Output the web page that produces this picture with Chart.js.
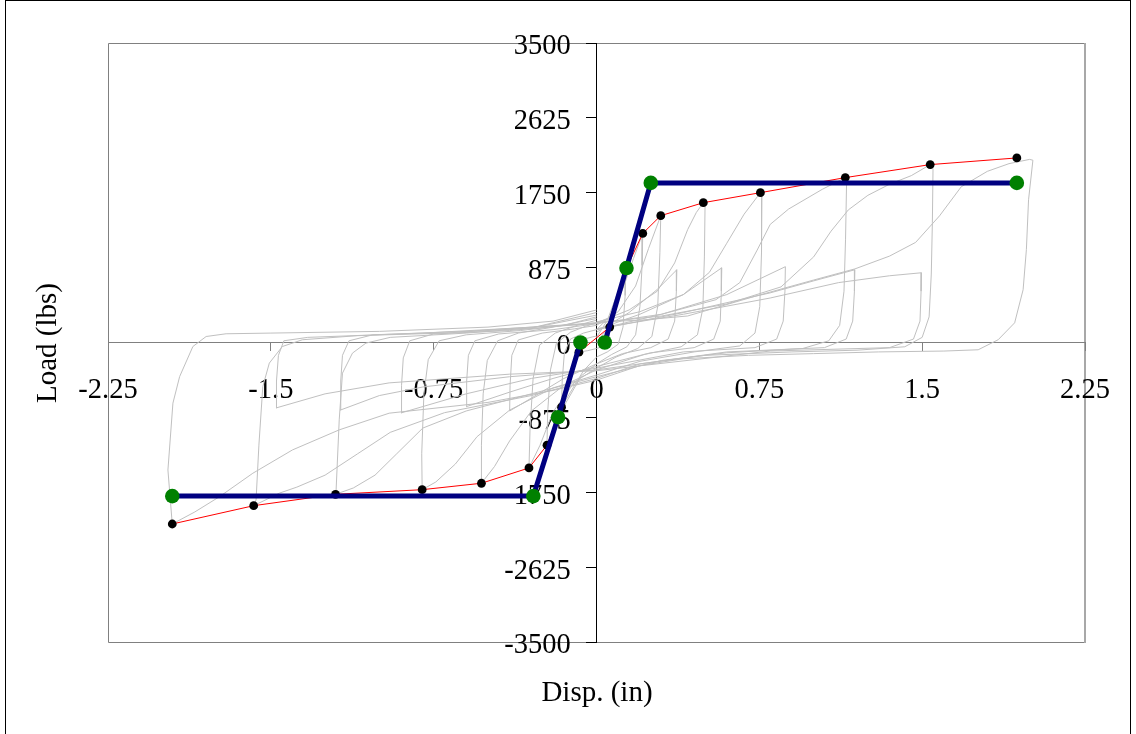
<!DOCTYPE html>
<html><head><meta charset="utf-8">
<script src="https://cdn.jsdelivr.net/npm/chart.js@4/dist/chart.umd.min.js"></script>
<style>html,body{margin:0;padding:0;background:#fff;overflow:hidden}#wrap{position:relative;width:1136px;height:734px}</style>
</head><body><div id="wrap"><canvas id="c" width="1136" height="734" style="width:1136px;height:734px"></canvas></div>
<script>
// ---- axis ticks ----
const xTickValues = [-2.25, -1.5, -0.75, 0, 0.75, 1.5, 2.25];
const xTickLabels = ['-2.25', '-1.5', '-0.75', '0', '0.75', '1.5', '2.25'];
const yTickValues = [-3500, -2625, -1750, -875, 0, 875, 1750, 2625, 3500];
const yTickLabels = ['-3500', '-2625', '-1750', '-875', '0', '875', '1750', '2625', '3500'];

// ---- backbone envelope (red line, black dots) ----
const envX = [-1.954, -1.579, -1.202, -0.803, -0.530, -0.311, -0.228, -0.161, -0.081, 0.061, 0.135, 0.213, 0.296, 0.492, 0.755, 1.146, 1.537, 1.936];
const envY = [-2121, -1907, -1774, -1720, -1645, -1466, -1200, -756, -113, 180, 850, 1275, 1482, 1634, 1751, 1927, 2079, 2157];

// ---- bilinear model (navy line, green dots) ----
const biPosX = [0.038, 0.138, 0.25, 1.936];
const biPosY = [0, 870, 1865, 1865];
const biNegX = [-0.074, -0.177, -0.291, -1.954];
const biNegY = [0, -873, -1795, -1795];

// ---- hysteresis loops (grey), [disp, load] ----
const loopL1 = [[0,0],[0.03,95],[0.061,180],[0.058,60],[0.045,-20],[0.02,-55],[0,-70],[-0.04,-95],[-0.081,-113],[-0.075,-20],[-0.055,40],[-0.02,65],[0,75]];
const loopL2 = [[0,60],[0.05,260],[0.1,600],[0.135,850],[0.132,550],[0.122,180],[0.1,-20],[0.05,-110],[0,-170],[-0.06,-330],[-0.12,-580],[-0.161,-756],[-0.158,-450],[-0.148,-120],[-0.12,40],[-0.06,110],[0,150]];
const loopL3 = [[0,150],[0.06,300],[0.12,620],[0.17,980],[0.213,1275],[0.21,900],[0.2,420],[0.18,90],[0.14,-50],[0.07,-140],[0,-250],[-0.07,-390],[-0.14,-700],[-0.19,-1000],[-0.228,-1200],[-0.225,-820],[-0.212,-320],[-0.185,-10],[-0.12,120],[-0.05,190],[0,230]];
const loopL4 = [[0,200],[0.1,360],[0.18,660],[0.24,1100],[0.296,1482],[0.292,1050],[0.282,420],[0.255,70],[0.19,-70],[0.09,-170],[0,-300],[-0.1,-460],[-0.2,-810],[-0.26,-1200],[-0.311,-1466],[-0.306,-1000],[-0.292,-420],[-0.262,-30],[-0.19,110],[-0.09,200],[0,260]];
const loopL5 = [[0,230],[0.15,380],[0.28,600],[0.36,930],[0.42,1320],[0.46,1520],[0.492,1634],[0.5,1600],[0.497,1000],[0.49,400],[0.465,90],[0.39,-50],[0.22,-140],[0,-320],[-0.15,-500],[-0.3,-800],[-0.4,-1150],[-0.47,-1450],[-0.53,-1645],[-0.53,-1200],[-0.522,-600],[-0.503,-210],[-0.455,20],[-0.36,110],[-0.2,180],[0,280]];
const loopL6 = [[0,240],[0.2,360],[0.4,560],[0.52,820],[0.6,1160],[0.68,1500],[0.755,1751],[0.762,1720],[0.76,1050],[0.752,420],[0.73,110],[0.66,-40],[0.45,-110],[0.2,-220],[0,-380],[-0.2,-530],[-0.4,-790],[-0.55,-1100],[-0.65,-1420],[-0.74,-1630],[-0.803,-1720],[-0.805,-1300],[-0.795,-600],[-0.775,-200],[-0.725,20],[-0.6,90],[-0.35,140],[-0.15,200],[0,300]];
const loopL7 = [[0,220],[0.3,330],[0.55,500],[0.66,700],[0.74,1080],[0.8,1380],[0.885,1560],[1.04,1790],[1.146,1927],[1.152,1890],[1.147,1200],[1.14,600],[1.12,200],[1.07,20],[0.95,-70],[0.6,-120],[0.3,-210],[0,-400],[-0.3,-600],[-0.6,-800],[-0.8,-1000],[-0.92,-1300],[-1.02,-1550],[-1.12,-1700],[-1.202,-1774],[-1.2,-1762],[-1.185,-904],[-1.17,-358],[-1.124,-124],[-1.062,-7],[-0.95,60],[-0.6,110],[-0.3,170],[0,320]];
const loopL8 = [[0,230],[0.3,310],[0.6,450],[0.85,650],[1.0,1000],[1.08,1300],[1.16,1550],[1.25,1720],[1.35,1850],[1.45,1950],[1.537,2079],[1.55,2030],[1.547,1400],[1.542,800],[1.532,300],[1.5,60],[1.42,-50],[1.2,-90],[0.9,-110],[0.5,-150],[0.2,-250],[0,-420],[-0.3,-620],[-0.7,-820],[-0.95,-1050],[-1.1,-1300],[-1.25,-1550],[-1.38,-1690],[-1.46,-1760],[-1.579,-1907],[-1.568,-1840],[-1.555,-1200],[-1.537,-515],[-1.507,-241],[-1.447,-47],[-1.355,32],[-1.1,80],[-0.7,110],[-0.3,170],[0,350]];
const loopL9 = [[0,240],[0.2,260],[0.42,310],[0.73,540],[1.0,730],[1.19,860],[1.35,1010],[1.47,1170],[1.58,1480],[1.68,1820],[1.8,2000],[1.9,2090],[1.995,2140],[2.01,2130],[1.99,1668],[1.98,1085],[1.965,617],[1.926,230],[1.85,32],[1.758,-85],[1.6,-100],[1.3,-110],[1.0,-130],[0.7,-150],[0.4,-190],[0.2,-270],[0,-440],[-0.2,-560],[-0.5,-700],[-0.955,-826],[-1.185,-1021],[-1.4,-1255],[-1.583,-1528],[-1.736,-1801],[-1.85,-1980],[-1.954,-2121],[-1.974,-1490],[-1.951,-709],[-1.92,-398],[-1.859,-47],[-1.798,70],[-1.706,102],[-1.5,110],[-1.0,130],[-0.5,180],[-0.2,250],[0,380]];
const loopT5 = [[0,120],[0.15,350],[0.28,620],[0.37,850],[0.368,600],[0.36,250],[0.33,40],[0.25,-60],[0.12,-130],[0,-250],[-0.15,-420],[-0.3,-650],[-0.4,-800],[-0.398,-500],[-0.39,-150],[-0.36,30],[-0.25,110],[-0.1,160],[0,200]];
const loopT6 = [[0,150],[0.2,330],[0.4,560],[0.577,873],[0.575,600],[0.57,250],[0.54,40],[0.45,-60],[0.25,-120],[0,-280],[-0.2,-420],[-0.4,-580],[-0.6,-750],[-0.598,-450],[-0.59,-150],[-0.56,20],[-0.45,100],[-0.2,150],[0,220]];
const loopT7 = [[0,150],[0.3,330],[0.6,560],[0.87,886],[0.868,600],[0.86,250],[0.83,40],[0.73,-60],[0.4,-110],[0,-300],[-0.3,-420],[-0.6,-600],[-0.9,-823],[-0.898,-500],[-0.89,-180],[-0.86,20],[-0.75,100],[-0.4,140],[0,230]];
const loopT8 = [[0,150],[0.4,350],[0.8,580],[1.0,720],[1.19,850],[1.188,600],[1.18,250],[1.15,40],[1.05,-60],[0.6,-110],[0,-320],[-0.4,-400],[-0.8,-520],[-1.0,-620],[-1.18,-790],[-1.178,-450],[-1.17,-150],[-1.14,20],[-1.03,90],[-0.6,130],[0,230]];
const loopT9 = [[0,160],[0.4,330],[0.8,520],[1.115,700],[1.35,780],[1.497,815],[1.495,600],[1.49,250],[1.46,40],[1.35,-60],[0.8,-100],[0,-330],[-0.4,-370],[-0.955,-472],[-1.25,-600],[-1.476,-765],[-1.474,-450],[-1.465,-150],[-1.44,20],[-1.33,60],[-0.8,110],[0,220]];
const grayLoops = [loopL1, loopL2, loopL3, loopL4, loopL5, loopT5, loopL6, loopT6, loopL7, loopT7, loopL8, loopT8, loopL9, loopT9];

const xTitle = 'Disp. (in)';
const yTitle = 'Load (lbs)';

// ---- build datasets ----
const zip = (xs, ys) => xs.map((x, i) => ({x: x, y: ys[i]}));
const datasets = [];
datasets.push({data: zip(biPosX, biPosY), showLine: true, borderColor: '#000080', borderWidth: 5,
  pointRadius: 7.3, pointBackgroundColor: '#008000', pointBorderColor: '#008000', pointBorderWidth: 0, order: 1});
datasets.push({data: zip(biNegX, biNegY), showLine: true, borderColor: '#000080', borderWidth: 5,
  pointRadius: 7.3, pointBackgroundColor: '#008000', pointBorderColor: '#008000', pointBorderWidth: 0, order: 1});
datasets.push({data: zip(envX, envY), showLine: true, borderColor: '#ff0000', borderWidth: 1,
  pointRadius: 4.4, pointBackgroundColor: '#000000', pointBorderColor: '#000000', pointBorderWidth: 0, order: 2});
grayLoops.forEach(loop => {
  datasets.push({data: loop.map(p => ({x: p[0], y: p[1]})), showLine: true, borderColor: '#c0c0c0',
    borderWidth: 1, pointRadius: 0, order: 3});
});

const FONT = 'Liberation Serif, Times New Roman, serif';

const decor = {
  id: 'decor',
  beforeDraw(chart) {
    const {ctx, chartArea: a} = chart;
    ctx.save();
    ctx.fillStyle = '#ffffff';
    ctx.fillRect(0, 0, chart.width, chart.height);
    ctx.lineWidth = 1;
    ctx.strokeStyle = '#808080';
    ctx.beginPath();
    ctx.moveTo(Math.round(a.left) + 0.5, Math.round(a.top) + 0.5);
    ctx.lineTo(Math.round(a.right) + 0.5, Math.round(a.top) + 0.5);
    ctx.moveTo(Math.round(a.left) + 0.5, Math.round(a.top) + 0.5);
    ctx.lineTo(Math.round(a.left) + 0.5, Math.round(a.bottom) + 0.5);
    ctx.lineTo(Math.round(a.right) + 0.5, Math.round(a.bottom) + 0.5);
    ctx.stroke();
    ctx.strokeStyle = '#a8a8a8';
    ctx.lineWidth = 2;
    ctx.beginPath();
    ctx.moveTo(Math.round(a.right), Math.round(a.top));
    ctx.lineTo(Math.round(a.right), Math.round(a.bottom) + 1);
    ctx.stroke();
    ctx.restore();
  },
  afterDraw(chart) {
    const {ctx} = chart;
    ctx.save();
    ctx.fillStyle = '#000';
    ctx.font = '29px ' + FONT;
    ctx.textAlign = 'center';
    ctx.textBaseline = 'middle';
    ctx.fillText(xTitle, 597, 693);
    ctx.translate(48, 343);
    ctx.rotate(-Math.PI / 2);
    ctx.fillText(yTitle, 0, 0);
    ctx.restore();
    ctx.save();
    ctx.strokeStyle = '#000';
    ctx.lineWidth = 1;
    ctx.strokeRect(5.5, 0.5, 1125, 800);
    ctx.restore();
  }
};

new Chart(document.getElementById('c'), {
  type: 'scatter',
  data: {datasets: datasets},
  options: {
    responsive: false,
    animation: false,
    layout: {padding: {left: 108, top: 43, right: 51, bottom: 92}},
    plugins: {legend: {display: false}, tooltip: {enabled: false}},
    elements: {line: {tension: 0}},
    scales: {
      x: {
        type: 'linear', min: -2.25, max: 2.25, position: {y: 0},
        afterBuildTicks: s => { s.ticks = xTickValues.map(v => ({value: v})); },
        ticks: {callback: (v, i) => xTickLabels[i], font: {family: FONT, size: 28.5}, color: '#000',
          padding: 23, maxRotation: 0, autoSkip: false},
        grid: {drawOnChartArea: false, drawTicks: true, tickLength: 8, color: '#808080'},
        border: {color: '#808080', width: 1}
      },
      y: {
        type: 'linear', axis: 'y', min: -3500, max: 3500, position: {x: 0},
        afterBuildTicks: s => { s.ticks = yTickValues.map(v => ({value: v})); },
        ticks: {callback: (v, i) => yTickLabels[i], font: {family: FONT, size: 28.5}, color: 'rgba(0,0,0,0)',
          autoSkip: false},
        grid: {drawOnChartArea: false, drawTicks: true, tickLength: 10, color: '#000'},
        border: {color: '#000', width: 1}
      },
      yLabels: {
        type: 'linear', axis: 'y', min: -3500, max: 3500, position: {x: -0.119},
        afterBuildTicks: s => { s.ticks = yTickValues.map(v => ({value: v})); },
        ticks: {callback: (v, i) => yTickLabels[i], font: {family: FONT, size: 28.5}, color: '#000',
          padding: 0, labelOffset: 4, autoSkip: false},
        grid: {display: false, drawTicks: false},
        border: {display: false}
      }
    }
  },
  plugins: [decor]
});
</script></body></html>
